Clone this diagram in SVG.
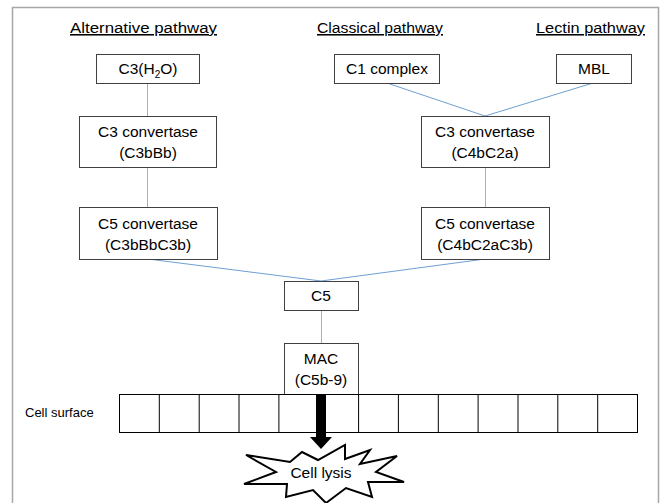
<svg xmlns="http://www.w3.org/2000/svg" width="663" height="503" viewBox="0 0 663 503">
<style>
text{font-family:"Liberation Sans",Arial,sans-serif;fill:#000;}
.h{font-size:15.5px;text-decoration:underline;}
.t{font-size:15.5px;text-anchor:middle;}
.box{fill:#fff;stroke:#404040;stroke-width:1;}
.cell{fill:#fff;stroke:#000;stroke-width:1;}
.conn line{stroke:#6F9FD3;stroke-width:1;}
.conn line.v{stroke:#8DB4E2;}
</style>
<rect width="663" height="503" fill="#fff"/>
<rect x="12.5" y="7.5" width="646" height="510" fill="none" stroke="#A6A6A6" stroke-width="1.5"/>
<g id="headers">
<text class="h" x="70" y="33" textLength="147" lengthAdjust="spacingAndGlyphs">Alternative pathway</text>
<text class="h" x="317" y="33" textLength="126" lengthAdjust="spacingAndGlyphs">Classical pathway</text>
<text class="h" x="536" y="33" textLength="109" lengthAdjust="spacingAndGlyphs">Lectin pathway</text>
</g>
<g class="conn" id="connectors">
<line class="v" x1="147.5" y1="83" x2="147.5" y2="116"/>
<line x1="387" y1="83" x2="485" y2="116"/>
<line x1="593" y1="83" x2="485" y2="116"/>
<line class="v" x1="147.5" y1="167" x2="147.5" y2="207"/>
<line class="v" x1="485.5" y1="167" x2="485.5" y2="207"/>
<line x1="148" y1="259" x2="321" y2="281"/>
<line x1="485" y1="259" x2="321" y2="281"/>
<line class="v" x1="321.5" y1="310" x2="321.5" y2="343"/>
</g>
<g id="n-c3h2o"><rect class="box" x="96.5" y="54.5" width="103" height="29"/><text class="t" x="148" y="74">C3(H<tspan font-size="10" dy="4">2</tspan><tspan dy="-4">O)</tspan></text></g>
<g id="n-c1"><rect class="box" x="334.5" y="54.5" width="105" height="29"/><text class="t" x="387" y="74">C1 complex</text></g>
<g id="n-mbl"><rect class="box" x="556.5" y="54.5" width="75" height="29"/><text class="t" x="594" y="74">MBL</text></g>
<g id="n-c3conv-alt"><rect class="box" x="79.5" y="116.5" width="137" height="51"/><text class="t" x="148" y="137">C3 convertase</text><text class="t" x="148" y="158">(C3bBb)</text></g>
<g id="n-c3conv-cl"><rect class="box" x="421.5" y="116.5" width="128" height="51"/><text class="t" x="485" y="137">C3 convertase</text><text class="t" x="485" y="158">(C4bC2a)</text></g>
<g id="n-c5conv-alt"><rect class="box" x="79.5" y="207.5" width="138" height="52"/><text class="t" x="148" y="229">C5 convertase</text><text class="t" x="148" y="250">(C3bBbC3b)</text></g>
<g id="n-c5conv-cl"><rect class="box" x="421.5" y="207.5" width="128" height="52"/><text class="t" x="485" y="229">C5 convertase</text><text class="t" x="485" y="250">(C4bC2aC3b)</text></g>
<g id="n-c5"><rect class="box" x="284.5" y="281.5" width="74" height="29"/><text class="t" x="321" y="301">C5</text></g>
<g id="n-mac"><rect class="box" x="284.5" y="343.5" width="74" height="51"/><text class="t" x="321" y="364">MAC</text><text class="t" x="321" y="385">(C5b-9)</text></g>
<g id="cell-surface">
<text x="25" y="417" font-size="13">Cell surface</text>
<rect class="cell" x="119.5" y="394.5" width="518" height="38"/>
<path d="M159.3 394.5V432.5M199.2 394.5V432.5M239 394.5V432.5M278.9 394.5V432.5M318.7 394.5V432.5M358.6 394.5V432.5M398.4 394.5V432.5M438.3 394.5V432.5M478.1 394.5V432.5M518 394.5V432.5M557.8 394.5V432.5M597.7 394.5V432.5" stroke="#000" stroke-width="1" fill="none"/>
</g>
<g id="arrow"><polygon points="316,394 326,394 326,437 332,437 321,449 310,437 316,437" fill="#000"/></g>
<g id="n-lysis">
<polygon points="246,455 290,462 302,452 318,460 345,445 345,459 370,450 360,464 397,456 376,472 404,482 368,482 372,497 346,488 326,503 313,490 286,497 287,484 244,484 276,472" fill="#fff" stroke="#000" stroke-width="2" stroke-linejoin="miter"/>
<text class="t" x="321" y="478">Cell lysis</text>
</g>
</svg>
